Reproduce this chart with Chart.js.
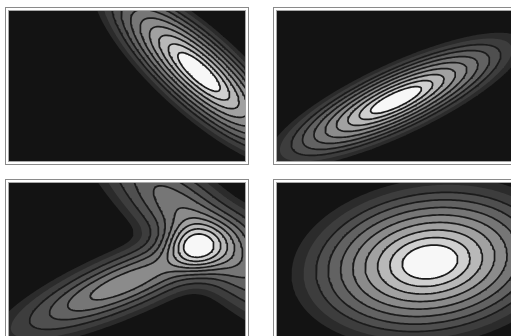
<!DOCTYPE html>
<html>
<head>
<meta charset="utf-8">
<script src="https://cdn.jsdelivr.net/npm/chart.js@4/dist/chart.umd.min.js"></script>
<style>
  html, body { margin: 0; padding: 0; background: #fff; width: 511px; height: 336px; overflow: hidden; }
  .frame { position: absolute; border: 1px solid #8a8a8a; padding: 2px; background: #fff; }
  .frame .inner { border: 1px solid #a8a8a8; background: #131313; line-height: 0; }
  canvas { display: block; }
</style>
</head>
<body>
<div class="frame" style="left:5px;top:7px"><div class="inner"><canvas id="tl" width="236" height="150"></canvas></div></div>
<div class="frame" style="left:273px;top:7px"><div class="inner"><canvas id="tr" width="236" height="150"></canvas></div></div>
<div class="frame" style="left:5px;top:179px"><div class="inner"><canvas id="bl" width="236" height="156"></canvas></div></div>
<div class="frame" style="left:273px;top:179px"><div class="inner"><canvas id="br" width="236" height="156"></canvas></div></div>
<script>
// Density components for each panel:
// [centre x, centre y, sigma along axis, sigma across axis, axis angle (deg, clockwise), weight]
const tlComponents = [[190, 61, 61, 19, 42, 1]];
const trComponents = [[119, 89, 62, 16, -25, 1]];
const blComponents = [
  [194, 48, 84, 23, 42, 0.5],
  [116, 100, 70, 17, -23, 0.55],
  [186, 64, 17, 14, 0, 0.5]
];
const brComponents = [[153, 79, 62, 37, -8, 1]];

// Contour levels (fraction of the peak density), lowest first
const tlLevels = [0.08, 0.122, 0.181, 0.256, 0.35, 0.458, 0.576, 0.697, 0.81, 0.904];
const trLevels = [0.08, 0.122, 0.181, 0.256, 0.35, 0.458, 0.576, 0.697, 0.81, 0.904];
const blLevels = [0.06, 0.1, 0.16, 0.24, 0.32, 0.41, 0.5, 0.6, 0.71, 0.83];
const brLevels = [0.08, 0.122, 0.181, 0.256, 0.35, 0.458, 0.576, 0.697, 0.81, 0.904];

// Fill shade for the region above each level
const bandColors = ['#2b2b2b', '#3d3d3d', '#4f4f4f', '#626262', '#767676', '#8b8b8b',
                    '#a1a1a1', '#b8b8b8', '#d0d0d0', '#f7f7f7'];
const outlineFrom = 2;          // the two lowest levels carry no outline
const outlineColor = '#1b1b1b';

function density(comps, x, y) {
  let v = 0;
  for (const [cx, cy, sa, sb, ang, w] of comps) {
    const t = ang * Math.PI / 180, c = Math.cos(t), s = Math.sin(t);
    const dx = x - cx, dy = y - cy;
    const u = (dx * c + dy * s) / sa, q = (-dx * s + dy * c) / sb;
    v += w * Math.exp(-0.5 * (u * u + q * q));
  }
  return v;
}

// Marching squares: closed outlines of {density >= level}
function contourLoops(comps, levels, w, h) {
  const step = 2, pad = 6;
  const x0 = -pad, y0 = -pad;
  const nx = Math.ceil((w + 2 * pad) / step) + 1, ny = Math.ceil((h + 2 * pad) / step) + 1;
  const F = new Float64Array(nx * ny);
  let max = 0;
  for (let j = 0; j < ny; j++) for (let i = 0; i < nx; i++) {
    const v = density(comps, x0 + i * step, y0 + j * step);
    F[j * nx + i] = v; if (v > max) max = v;
  }
  for (let k = 0; k < F.length; k++) F[k] /= max;
  for (let i = 0; i < nx; i++) { F[i] = 0; F[(ny - 1) * nx + i] = 0; }
  for (let j = 0; j < ny; j++) { F[j * nx] = 0; F[j * nx + nx - 1] = 0; }

  return levels.map(lev => {
    const pts = new Map(), adj = new Map();
    const key = (i, j, vert) => (j * nx + i) * 2 + (vert ? 1 : 0);
    const point = (k, i1, j1, i2, j2) => {
      if (!pts.has(k)) {
        const a = F[j1 * nx + i1], b = F[j2 * nx + i2];
        const t = (lev - a) / (b - a);
        pts.set(k, { x: x0 + (i1 + (i2 - i1) * t) * step, y: y0 + (j1 + (j2 - j1) * t) * step });
      }
    };
    const link = (a, b) => {
      if (!adj.has(a)) adj.set(a, []);
      if (!adj.has(b)) adj.set(b, []);
      adj.get(a).push(b); adj.get(b).push(a);
    };
    for (let j = 0; j < ny - 1; j++) for (let i = 0; i < nx - 1; i++) {
      const va = F[j * nx + i], vb = F[j * nx + i + 1], vc = F[(j + 1) * nx + i + 1], vd = F[(j + 1) * nx + i];
      const a = va >= lev, b = vb >= lev, c = vc >= lev, d = vd >= lev;
      const code = (a ? 8 : 0) | (b ? 4 : 0) | (c ? 2 : 0) | (d ? 1 : 0);
      if (code === 0 || code === 15) continue;
      const T = key(i, j, false), B = key(i, j + 1, false), L = key(i, j, true), R = key(i + 1, j, true);
      if (a !== b) point(T, i, j, i + 1, j);
      if (b !== c) point(R, i + 1, j, i + 1, j + 1);
      if (d !== c) point(B, i, j + 1, i + 1, j + 1);
      if (a !== d) point(L, i, j, i, j + 1);
      if (code === 5 || code === 10) {
        const m = (va + vb + vc + vd) / 4 >= lev;
        const cutBD = (code === 10) === m;
        if (cutBD) { link(T, R); link(B, L); } else { link(T, L); link(R, B); }
      } else {
        const e = [];
        if (a !== b) e.push(T);
        if (b !== c) e.push(R);
        if (d !== c) e.push(B);
        if (a !== d) e.push(L);
        link(e[0], e[1]);
      }
    }
    const seen = new Set(), loops = [];
    for (const start of adj.keys()) {
      if (seen.has(start)) continue;
      const loop = [];
      let prev = null, cur = start;
      while (!seen.has(cur)) {
        seen.add(cur);
        loop.push(pts.get(cur));
        const n = adj.get(cur);
        const next = n[0] !== prev ? n[0] : n[1];
        prev = cur; cur = next;
      }
      loop.push(loop[0]);
      if (loop.length > 3) loops.push(loop);
    }
    return loops;
  });
}

function drawPanel(id, comps, levels) {
  const canvas = document.getElementById(id);
  const w = canvas.width, h = canvas.height;
  const perLevel = contourLoops(comps, levels, w, h);
  const datasets = [];
  perLevel.forEach((loops, k) => {
    for (const loop of loops) {
      datasets.push({
        data: loop, fill: 'shape', backgroundColor: bandColors[k],
        borderColor: 'rgba(0,0,0,0)', borderWidth: 0, pointRadius: 0, order: 100 - k
      });
    }
  });
  perLevel.forEach((loops, k) => {
    if (k < outlineFrom) return;
    for (const loop of loops) {
      datasets.push({
        data: loop, fill: false, borderColor: outlineColor, borderWidth: 1.7,
        pointRadius: 0, order: 0
      });
    }
  });
  new Chart(canvas, {
    type: 'line',
    data: { datasets },
    options: {
      responsive: false, animation: false, devicePixelRatio: 1, events: [],
      layout: { padding: 0 },
      plugins: { legend: { display: false }, tooltip: { enabled: false } },
      elements: { point: { radius: 0 }, line: { tension: 0, borderJoinStyle: 'round' } },
      scales: {
        x: { type: 'linear', display: false, min: 0, max: w },
        y: { type: 'linear', display: false, min: 0, max: h, reverse: true }
      }
    }
  });
}

drawPanel('tl', tlComponents, tlLevels);
drawPanel('tr', trComponents, trLevels);
drawPanel('bl', blComponents, blLevels);
drawPanel('br', brComponents, brLevels);
</script>
</body>
</html>
